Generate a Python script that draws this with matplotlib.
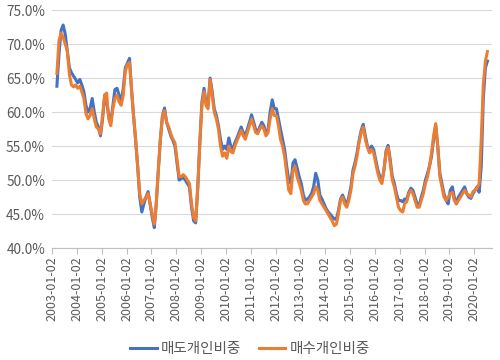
import matplotlib
matplotlib.use("Agg")
import matplotlib.pyplot as plt
import numpy as np
import pandas as pd

# 월별 추정치 (2003-03 ~ 2020-07), 단위 %
START = "2003-03-01"

# 매도개인비중
sell_share = [
    63.8, 68.5, 72.0, 72.8, 71.5, 69.0, 66.5, 65.8, 65.3, 64.8,                # 2003
    64.3, 64.8, 64.0, 63.0, 61.0, 60.0, 60.5, 62.0, 60.0, 58.5, 57.8, 56.5,    # 2004
    59.0, 62.5, 61.5, 59.5, 58.5, 61.0, 63.3, 63.5, 62.5, 61.5, 63.5, 66.5,    # 2005
    67.2, 67.9, 63.5, 59.5, 56.0, 52.0, 47.5, 45.3, 46.5, 47.5, 48.3, 46.5,    # 2006
    44.5, 43.0, 46.5, 51.5, 56.0, 59.5, 60.6, 58.5, 57.5, 56.5, 55.8, 55.0,    # 2007
    52.5, 50.0, 50.2, 50.4, 50.0, 49.5, 49.0, 46.0, 44.0, 43.7, 49.0, 55.5,    # 2008
    61.5, 63.5, 61.5, 61.0, 65.0, 63.0, 60.5, 59.5, 58.0, 56.0, 54.5, 55.0,    # 2009
    54.5, 56.2, 55.0, 54.6, 55.5, 56.2, 57.0, 57.8, 57.0, 56.5, 57.5, 58.5,    # 2010
    59.6, 58.5, 57.5, 57.0, 57.8, 58.5, 58.0, 56.8, 57.5, 60.0, 61.8, 60.5,    # 2011
    60.5, 59.0, 57.5, 56.0, 54.5, 52.0, 50.0, 49.5, 52.5, 53.0, 51.8, 50.5,    # 2012
    49.5, 47.8, 47.0, 47.2, 47.5, 48.0, 49.0, 51.0, 50.0, 47.8, 47.2, 46.5,    # 2013
    45.8, 45.3, 45.0, 44.6, 44.3, 44.2, 45.5, 47.2, 47.8, 47.0, 46.3, 47.5,    # 2014
    49.0, 51.5, 52.5, 54.0, 55.8, 57.3, 58.2, 56.5, 55.0, 54.5, 55.0, 54.5,    # 2015
    53.0, 51.5, 50.5, 49.8, 51.5, 54.3, 55.1, 53.0, 50.5, 49.5, 48.0, 47.0,    # 2016
    47.0, 46.8, 47.2, 47.2, 48.2, 48.8, 48.5, 47.5, 46.5, 46.2, 47.5, 48.5,    # 2017
    50.0, 51.0, 52.0, 53.5, 56.0, 58.0, 55.0, 51.0, 49.5, 48.0, 47.0, 46.5,    # 2018
    48.5, 49.0, 47.5, 46.5, 47.5, 48.0, 48.5, 49.0, 48.0, 47.5, 47.3, 48.0,    # 2019
    48.5, 49.0, 48.2, 52.0, 62.0, 66.5, 67.5,                                  # 2020
]

# 매수개인비중
buy_share = [
    65.7, 70.5, 71.6, 71.0, 70.0, 69.0, 65.5, 64.0, 63.7, 64.0,                # 2003
    63.5, 63.8, 63.0, 62.0, 59.8, 59.0, 59.5, 60.5, 59.0, 57.8, 57.5, 56.8,    # 2004
    59.5, 62.5, 62.8, 59.0, 58.0, 60.5, 62.0, 62.5, 61.5, 61.0, 62.5, 66.0,    # 2005
    67.0, 67.3, 63.5, 59.5, 56.0, 52.0, 48.0, 46.5, 47.0, 47.5, 48.0, 46.5,    # 2006
    45.0, 43.5, 46.5, 51.5, 56.0, 59.5, 60.2, 58.5, 57.8, 56.8, 56.0, 55.5,    # 2007
    53.0, 50.5, 50.5, 50.8, 50.5, 50.0, 49.5, 46.5, 44.5, 44.0, 49.0, 55.5,    # 2008
    61.0, 63.0, 61.0, 60.5, 64.8, 62.5, 60.0, 59.0, 57.5, 55.0, 53.5, 54.0,    # 2009
    53.2, 55.0, 54.2, 54.0, 55.0, 55.8, 56.5, 57.3, 56.5, 56.0, 57.0, 58.0,    # 2010
    59.0, 58.0, 57.0, 56.8, 57.5, 58.0, 57.5, 56.5, 57.0, 59.0, 60.5, 59.5,    # 2011
    59.5, 58.0, 56.0, 55.0, 53.5, 51.0, 48.5, 48.0, 51.5, 52.0, 50.5, 49.5,    # 2012
    48.5, 47.0, 46.5, 46.5, 47.0, 47.5, 48.0, 49.0, 48.5, 47.0, 46.5, 46.0,    # 2013
    45.5, 45.0, 44.5, 44.0, 43.3, 43.5, 45.0, 47.0, 47.5, 46.5, 46.0, 47.0,    # 2014
    48.5, 51.0, 52.0, 53.5, 55.5, 57.0, 57.8, 56.0, 54.8, 54.0, 54.5, 54.0,    # 2015
    52.5, 51.0, 50.0, 49.5, 51.5, 54.0, 54.8, 52.5, 50.0, 49.0, 47.5, 46.0,    # 2016
    45.5, 45.3, 46.5, 46.8, 48.0, 48.5, 48.0, 47.0, 46.0, 46.0, 47.0, 48.0,    # 2017
    49.5, 50.5, 52.0, 54.0, 56.5, 58.3, 55.0, 50.5, 49.0, 47.5, 47.0, 47.5,    # 2018
    48.0, 48.2, 47.0, 46.5, 47.0, 47.5, 48.0, 48.5, 48.0, 47.8, 47.5, 48.3,    # 2019
    48.5, 48.8, 49.5, 56.0, 64.0, 67.5, 68.9,                                  # 2020
]

tick_years = list(range(2003, 2021))

BLUE = "#4472C4"
ORANGE = "#ED7D31"
GRAY = "#595959"

plt.rcParams["font.family"] = ["Noto Sans CJK KR", "DejaVu Sans"]

dates = pd.date_range(START, periods=len(sell_share), freq="MS") + pd.Timedelta(days=14)

fig = plt.figure(figsize=(5, 3.6), dpi=100)
ax = fig.add_axes([0.104, 0.311, 0.88, 0.661])

ax.plot(dates, np.array(sell_share) / 100, color=BLUE, lw=2.2, label="매도개인비중")
ax.plot(dates, np.array(buy_share) / 100, color=ORANGE, lw=2.2, label="매수개인비중")

ax.set_ylim(0.40, 0.75)
ax.set_yticks(np.arange(0.40, 0.751, 0.05))
ax.yaxis.set_major_formatter(plt.FuncFormatter(lambda v, _: f"{v * 100:.1f}%"))

ticks = [pd.Timestamp(f"{y}-01-02") for y in tick_years]
ax.set_xticks(ticks)
ax.set_xticklabels([t.strftime("%Y-%m-%d") for t in ticks], rotation=90)
ax.set_xlim(pd.Timestamp("2003-01-02"), pd.Timestamp("2020-09-20"))

ax.grid(axis="y", color="#D9D9D9", lw=0.8)
ax.set_axisbelow(True)
for s in ["top", "right", "left"]:
    ax.spines[s].set_visible(False)
ax.spines["bottom"].set_color("#BFBFBF")
ax.tick_params(axis="y", length=0, labelsize=9.8, colors=GRAY, pad=5)
ax.tick_params(axis="x", length=4, color="#BFBFBF", labelsize=9, labelcolor=GRAY, pad=2)

leg = fig.legend(loc="lower center", ncol=2, frameon=False, fontsize=10.5,
                 bbox_to_anchor=(0.5, -0.025), handlelength=1.8, handletextpad=0.3,
                 columnspacing=1.2)
for t in leg.get_texts():
    t.set_color(GRAY)

fig.savefig("out.png", dpi=100)
